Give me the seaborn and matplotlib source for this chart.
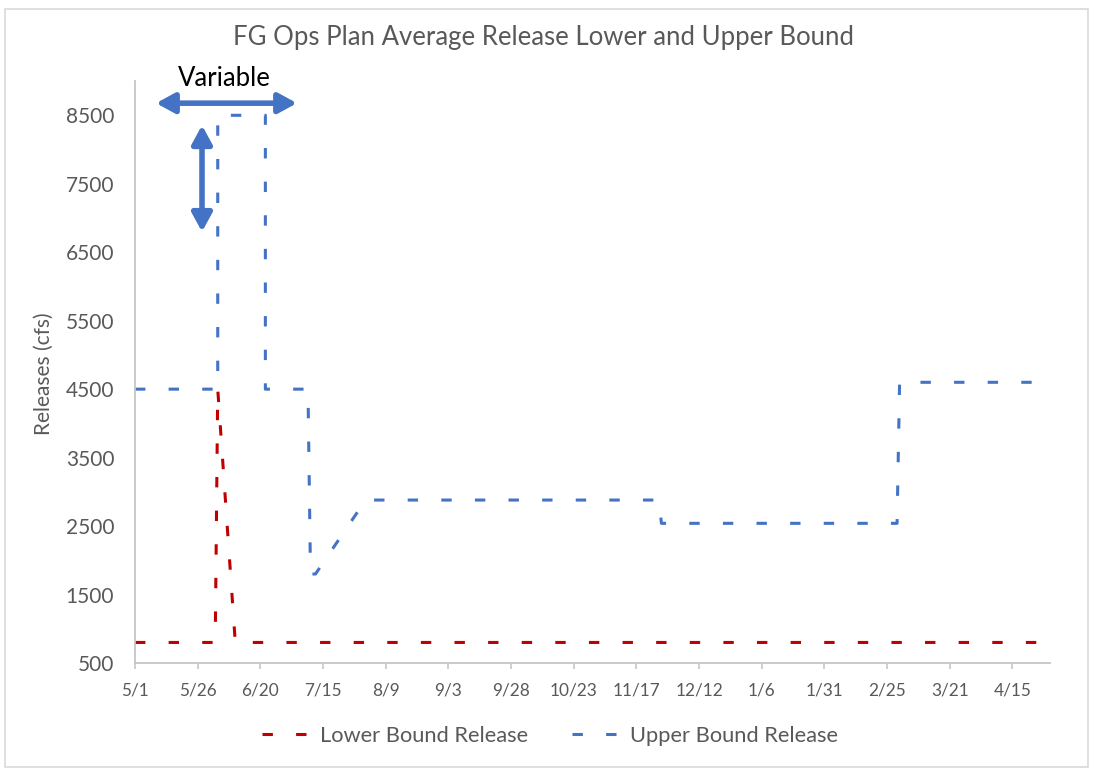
import matplotlib
matplotlib.use("Agg")
import matplotlib.pyplot as plt
import pandas as pd
import seaborn as sns
from matplotlib.patches import Rectangle


# breakpoints of the two daily release series (cfs)
lower_dates = ["2019-05-01", "2019-06-02", "2019-06-03", "2019-06-10", "2020-04-30"]
lower_cfs = [800, 800, 4500, 800, 800]

upper_dates = [
    "2019-05-01", "2019-06-03", "2019-06-03", "2019-06-22", "2019-06-22",
    "2019-07-09", "2019-07-10", "2019-07-12", "2019-08-01", "2019-11-26",
    "2019-11-27", "2020-02-29", "2020-03-01", "2020-04-30",
]
upper_cfs = [4500, 4500, 8500, 8500, 4500, 4500, 1800, 1800, 2880, 2880, 2540, 2540, 4600, 4600]

tick_dates = [
    "2019-05-01", "2019-05-26", "2019-06-20", "2019-07-15", "2019-08-09",
    "2019-09-03", "2019-09-28", "2019-10-23", "2019-11-17", "2019-12-12",
    "2020-01-06", "2020-01-31", "2020-02-25", "2020-03-21", "2020-04-15",
]
tick_labels = ["5/1", "5/26", "6/20", "7/15", "8/9", "9/3", "9/28", "10/23",
               "11/17", "12/12", "1/6", "1/31", "2/25", "3/21", "4/15"]
y_ticks = [500, 1500, 2500, 3500, 4500, 5500, 6500, 7500, 8500]

RED = "#C00000"
BLUE = "#4472C4"
GREY_TEXT = "#595959"
GREY_LINE = "#c6c6c6"

sns.set_theme(style="white")
plt.rcParams["font.family"] = ["Lato", "DejaVu Sans"]

lower = pd.DataFrame({"date": pd.to_datetime(lower_dates), "cfs": lower_cfs})
upper = pd.DataFrame({"date": pd.to_datetime(upper_dates), "cfs": upper_cfs})

fig = plt.figure(figsize=(10.95, 7.72), dpi=100)
ax = fig.add_axes([0.1233, 0.1412, 0.8356, 0.7538])

dash = (0, (3.4, 7.6))
sns.lineplot(data=lower, x="date", y="cfs", ax=ax, color=RED, linewidth=2.2,
             linestyle=dash, estimator=None, sort=False, label="Lower Bound Release")
sns.lineplot(data=upper, x="date", y="cfs", ax=ax, color=BLUE, linewidth=2.2,
             linestyle=dash, estimator=None, sort=False, label="Upper Bound Release")

ax.set_xlim(pd.Timestamp("2019-05-01"), pd.Timestamp("2020-04-30"))
ax.set_ylim(500, 9000)
ax.set_xticks(pd.to_datetime(tick_dates))
ax.set_xticklabels(tick_labels)
ax.set_yticks(y_ticks)
ax.tick_params(axis="x", colors=GREY_LINE, labelcolor=GREY_TEXT, labelsize=12.4,
               length=4, width=1.2, direction="out", pad=10, bottom=True)
ax.tick_params(axis="y", labelcolor=GREY_TEXT, labelsize=15, length=0, pad=15)

for side in ["top", "right"]:
    ax.spines[side].set_visible(False)
for side in ["left", "bottom"]:
    ax.spines[side].set_color(GREY_LINE)
    ax.spines[side].set_linewidth(1.3)

ax.set_xlabel("")
ax.set_ylabel("Releases (cfs)", color=GREY_TEXT, fontsize=15)
ax.yaxis.set_label_coords(-0.0885, 0.498)
fig.text(0.496, 0.951, "FG Ops Plan Average Release Lower and Upper Bound",
         color=GREY_TEXT, fontsize=18.5, ha="center", va="center")

# "Variable" annotation arrows
arrow = dict(arrowstyle="<|-|>,head_length=0.55,head_width=0.3", color=BLUE,
             lw=4, shrinkA=0, shrinkB=0, mutation_scale=20)
ax.annotate("", xy=(0.023, 0.962), xytext=(0.177, 0.962), xycoords="axes fraction",
            arrowprops=arrow, annotation_clip=False)
ax.annotate("", xy=(0.0732, 0.924), xytext=(0.0732, 0.741), xycoords="axes fraction",
            arrowprops=arrow, annotation_clip=False)
ax.text(0.098, 1.005, "Variable", transform=ax.transAxes, ha="center", va="center",
        fontsize=18.5, color="black")

leg = ax.legend(loc="center", bbox_to_anchor=(0.4536, -0.125), ncol=2, frameon=False,
                fontsize=15.75, handlelength=2.0, handletextpad=0.64, columnspacing=2.0)
for t in leg.get_texts():
    t.set_color(GREY_TEXT)

fig.patches.append(Rectangle((0.005, 0.006), 0.989, 0.982, transform=fig.transFigure,
                             fill=False, edgecolor="#d9d9d9", linewidth=1.2))

fig.savefig("out.png", dpi=100)
